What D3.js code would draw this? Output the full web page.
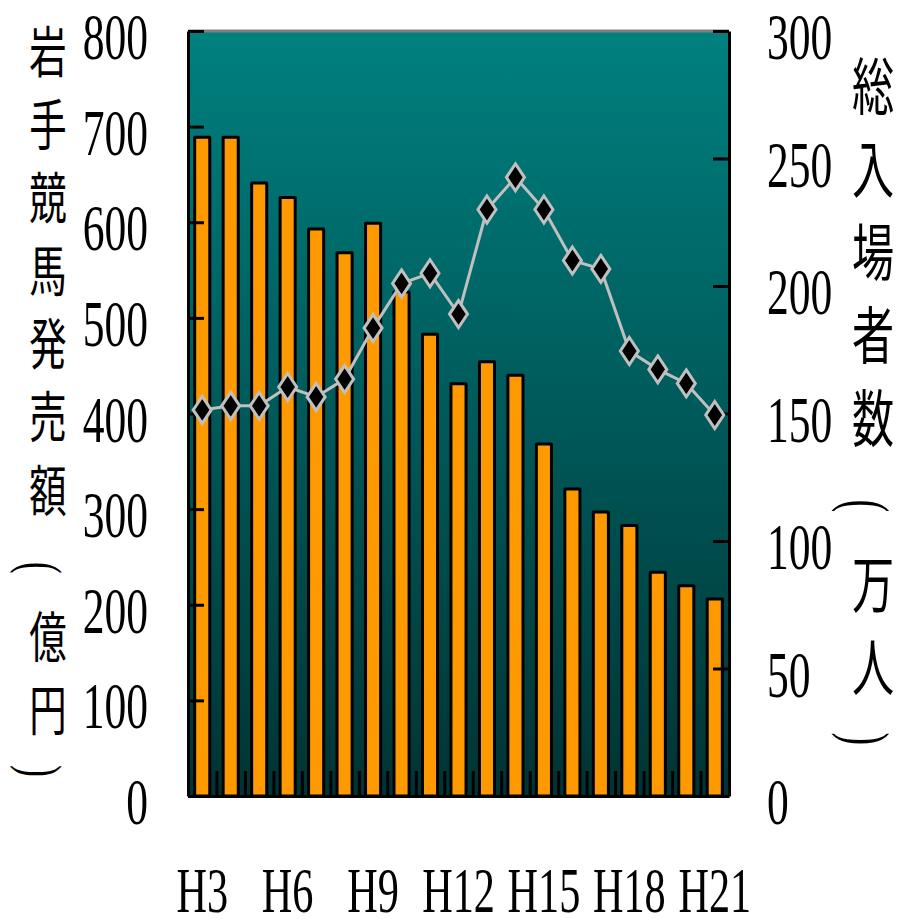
<!DOCTYPE html>
<html>
<head>
<meta charset="utf-8">
<script src="https://cdn.jsdelivr.net/npm/d3@7"></script>
<style>
  html, body { margin: 0; padding: 0; background: #ffffff; }
  svg { display: block; }
</style>
</head>
<body>
<script>
// Iwate keiba: annual betting turnover (100M yen, bars) and total attendance (10k people, line)
const categories = ["H3","H4","H5","H6","H7","H8","H9","H10","H11","H12","H13","H14","H15","H16","H17","H18","H19","H20","H21"];
const sales = [689, 689, 641, 626, 593, 568, 599, 527, 483, 431, 454, 440, 368, 321, 297, 283, 234, 220, 206];
const visitors = [151.4, 153, 153, 160.4, 156.5, 163.5, 183.5, 201, 205, 189, 230, 242.6, 230, 210, 206.7, 174.5, 167.3, 161.8, 149.4];
const xLabels = ["H3","H6","H9","H12","H15","H18","H21"];
const leftTicks = [0, 100, 200, 300, 400, 500, 600, 700, 800];
const rightTicks = [0, 50, 100, 150, 200, 250, 300];
const leftTitle = ["岩","手","競","馬","発","売","額","（","億","円","）"];
const rightTitle = ["総","入","場","者","数","（","万","人","）"];

const W = 908, H = 919;
const plot = { left: 188, right: 729, top: 31, bottom: 796 };
const numFont = "'Liberation Serif', 'Times New Roman', serif";
const cjkFont = "'Noto Sans CJK JP', 'Noto Sans CJK SC', sans-serif";
const squeeze = 0.66;

const svg = d3.select("body").append("svg").attr("width", W).attr("height", H);

const x = d3.scaleBand().domain(categories).range([plot.left, plot.right])
  .paddingInner(0.47).paddingOuter(0.235);
const xIdx = d3.scaleLinear().domain([0, categories.length]).range([plot.left, plot.right]);
const yL = d3.scaleLinear().domain([0, 800]).range([plot.bottom, plot.top]);
const yR = d3.scaleLinear().domain([0, 300]).range([plot.bottom, plot.top]);

// plot background gradient
const defs = svg.append("defs");
const grad = defs.append("linearGradient").attr("id", "bg").attr("x1", 0).attr("y1", 0).attr("x2", 0).attr("y2", 1);
grad.append("stop").attr("offset", "0%").attr("stop-color", "#008080");
grad.append("stop").attr("offset", "100%").attr("stop-color", "#003333");
svg.append("rect").attr("x", plot.left).attr("y", plot.top)
  .attr("width", plot.right - plot.left).attr("height", plot.bottom - plot.top)
  .attr("fill", "url(#bg)");

// category separators along the bottom
const sep = svg.append("g").attr("transform", `translate(0,${plot.bottom})`)
  .call(d3.axisBottom(xIdx).tickValues(d3.range(1, categories.length)).tickSizeInner(-25).tickSizeOuter(0).tickFormat(""));
sep.select(".domain").remove();
sep.selectAll(".tick line").attr("stroke", "#000").attr("stroke-width", 3);

// bars
svg.append("g").selectAll("rect").data(categories).join("rect")
  .attr("x", d => x(d))
  .attr("y", (d, i) => yL(sales[i]))
  .attr("width", x.bandwidth())
  .attr("height", (d, i) => yL(0) - yL(sales[i]))
  .attr("fill", "#FF9900")
  .attr("stroke", "#000")
  .attr("stroke-width", 3)
  .attr("stroke-linejoin", "round");

// top border
svg.append("line").attr("x1", plot.left).attr("x2", plot.right)
  .attr("y1", plot.top).attr("y2", plot.top)
  .attr("stroke", "#808080").attr("stroke-width", 3);

// left axis
const axL = svg.append("g").attr("transform", `translate(${plot.left},0)`)
  .call(d3.axisLeft(yL).tickValues(leftTicks).tickSizeInner(-16).tickSizeOuter(0).tickFormat(d3.format("d")));
axL.select(".domain").attr("stroke", "#000").attr("stroke-width", 3);
axL.selectAll(".tick line").attr("stroke", "#000").attr("stroke-width", 3);
axL.selectAll(".tick text")
  .attr("x", null).attr("dy", null)
  .attr("transform", `translate(-40,27.5) scale(${squeeze},1)`)
  .attr("text-anchor", "end")
  .attr("font-family", numFont).attr("font-size", 66).attr("fill", "#000");

// right axis
const axR = svg.append("g").attr("transform", `translate(${plot.right},0)`)
  .call(d3.axisRight(yR).tickValues(rightTicks).tickSizeInner(-16).tickSizeOuter(0).tickFormat(d3.format("d")));
axR.select(".domain").attr("stroke", "#000").attr("stroke-width", 3);
axR.selectAll(".tick line").attr("stroke", "#000").attr("stroke-width", 3);
axR.selectAll(".tick text")
  .attr("x", null).attr("dy", null)
  .attr("transform", `translate(38,27.5) scale(${squeeze},1)`)
  .attr("text-anchor", "start")
  .attr("font-family", numFont).attr("font-size", 66).attr("fill", "#000");

// bottom axis line and year labels
const axB = svg.append("g").attr("transform", `translate(0,${plot.bottom})`)
  .call(d3.axisBottom(x).tickValues(xLabels).tickSize(0));
axB.select(".domain").attr("stroke", "#000").attr("stroke-width", 3);
axB.selectAll(".tick text")
  .attr("y", null).attr("dy", null)
  .attr("transform", `translate(0,116) scale(${squeeze},1)`)
  .attr("text-anchor", "middle")
  .attr("font-family", numFont).attr("font-size", 64).attr("fill", "#000");

// attendance line
const line = d3.line().x((d, i) => x(categories[i]) + x.bandwidth() / 2).y(d => yR(d));
svg.append("path").datum(visitors)
  .attr("d", line).attr("fill", "none")
  .attr("stroke", "#C0C0C0").attr("stroke-width", 3);

const diamond = "M0,-13.5L9,0L0,13.5L-9,0Z";
svg.append("g").selectAll("path").data(visitors).join("path")
  .attr("transform", (d, i) => `translate(${x(categories[i]) + x.bandwidth() / 2},${yR(d)})`)
  .attr("d", diamond)
  .attr("fill", "#000").attr("stroke", "#C0C0C0").attr("stroke-width", 3);

// vertical axis titles, one character per row; brackets turned sideways
function verticalTitle(chars, cx, cy0, step, size, parenSize) {
  const g = svg.append("g");
  chars.forEach((c, i) => {
    const cy = cy0 + i * step;
    if (c === "（" || c === "）") {
      g.append("text")
        .attr("transform", `translate(${cx - 6},${cy + (c === "（" ? 8 : -8)}) scale(1,0.6) rotate(90)`)
        .attr("text-anchor", "middle").attr("dominant-baseline", "central")
        .attr("font-family", numFont).attr("font-size", parenSize).attr("fill", "#000")
        .text(c === "（" ? "(" : ")");
    } else {
      g.append("text")
        .attr("transform", `translate(${cx},${cy}) scale(${squeeze + 0.02},1)`)
        .attr("text-anchor", "middle").attr("dominant-baseline", "central")
        .attr("font-family", cjkFont).attr("font-size", size).attr("fill", "#000")
        .text(c);
    }
  });
}
verticalTitle(leftTitle, 48, 48, 73.1, 55, 58);
verticalTitle(rightTitle, 873, 83, 83, 62, 64);
</script>
</body>
</html>
